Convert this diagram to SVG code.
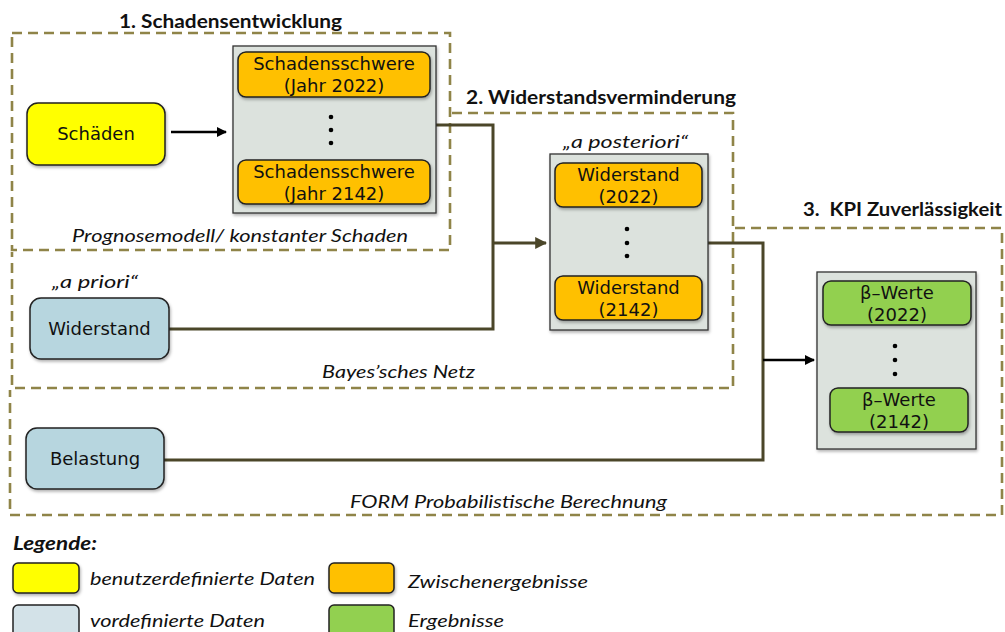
<svg xmlns="http://www.w3.org/2000/svg" width="1005" height="632" viewBox="0 0 1005 632">
<style>
.zone{fill:none;stroke:#8F8448;stroke-width:2.6;stroke-dasharray:10 6}
.title{font-family:Lato,"Open Sans","Liberation Sans",sans-serif;font-weight:bold;font-size:18px;fill:#111}
.ital{font-family:Lato,"Open Sans","Liberation Sans",sans-serif;font-style:italic;font-size:18px;fill:#111}
.nt{font-family:"DejaVu Sans","Liberation Sans",sans-serif;font-size:18px;fill:#111;text-anchor:middle}
.grp{fill:#DCE2DD;stroke:#333;stroke-width:1.3}
.yel{fill:#FFFF00;stroke:#222;stroke-width:1.5}
.blu{fill:#B7D6DF;stroke:#222;stroke-width:1.5}
.org{fill:#FFC000;stroke:#222;stroke-width:1.5}
.grn{fill:#92D050;stroke:#222;stroke-width:1.5}
.lblu{fill:#D3E2E8;stroke:#222;stroke-width:1.5}
.conn{fill:none;stroke:#4B4629;stroke-width:3;stroke-linejoin:miter}
.blk{fill:none;stroke:#000;stroke-width:2.5}
.dot{fill:#000}
</style>
<defs>
<filter id="sh" x="-10%" y="-10%" width="130%" height="140%">
<feDropShadow dx="1" dy="2" stdDeviation="1.5" flood-color="#000" flood-opacity="0.3"/>
</filter>
<marker id="ah" viewBox="0 0 10 10" refX="9" refY="5" markerWidth="4" markerHeight="4" orient="auto" markerUnits="strokeWidth">
<path d="M0,0 L10,5 L0,10 z" fill="#000"/>
</marker>
<marker id="ahb" viewBox="0 0 10 10" refX="9" refY="5" markerWidth="4" markerHeight="4" orient="auto" markerUnits="strokeWidth">
<path d="M0,0 L10,5 L0,10 z" fill="#4B4629"/>
</marker>
</defs>
<rect x="0" y="0" width="1005" height="632" fill="#ffffff"/>

<g id="zones">
<rect class="zone" x="12" y="33" width="438" height="217"/>
<path class="zone" d="M452,113 H733 V388 H12 V252"/>
<path class="zone" d="M735,228 H1002 V515 H10 V390"/>
</g>

<g id="zone-labels">
<text class="title" x="119" y="28" textLength="223" lengthAdjust="spacingAndGlyphs">1. Schadensentwicklung</text>
<text class="title" x="466" y="104" textLength="270" lengthAdjust="spacingAndGlyphs">2. Widerstandsverminderung</text>
<text class="title" x="803" y="216" textLength="199" lengthAdjust="spacingAndGlyphs" xml:space="preserve">3.  KPI Zuverlässigkeit</text>
<text class="ital" x="72" y="242" textLength="336" lengthAdjust="spacingAndGlyphs">Prognosemodell/ konstanter Schaden</text>
<text class="ital" x="322" y="378" textLength="153" lengthAdjust="spacingAndGlyphs">Bayes’sches Netz</text>
<text class="ital" x="350" y="508" textLength="317" lengthAdjust="spacingAndGlyphs">FORM Probabilistische Berechnung</text>
<text class="ital" x="52" y="288" textLength="86" lengthAdjust="spacingAndGlyphs">„a priori“</text>
<text class="ital" x="563" y="148" textLength="125" lengthAdjust="spacingAndGlyphs">„a posteriori“</text>
</g>

<g id="connectors">
<path class="conn" d="M436,125 H493 V329 H169"/>
<path class="conn" d="M493,243 H546" marker-end="url(#ahb)"/>
<path class="conn" d="M708,243 H763 V460 H164"/>
<path class="blk" d="M763,360 H814" marker-end="url(#ah)"/>
<path class="blk" d="M171,132 H226" marker-end="url(#ah)"/>
</g>

<g id="schaeden">
<rect class="yel" x="27" y="103" width="138" height="62" rx="11" filter="url(#sh)"/>
<text class="nt" x="96" y="140">Schäden</text>
</g>

<g id="widerstand-apriori">
<rect class="blu" x="30" y="298" width="139" height="61" rx="11" filter="url(#sh)"/>
<text class="nt" x="99.5" y="335">Widerstand</text>
</g>

<g id="belastung">
<rect class="blu" x="26" y="428" width="138" height="61" rx="11" filter="url(#sh)"/>
<text class="nt" x="95" y="465">Belastung</text>
</g>

<g id="schadensschwere">
<rect class="grp" x="233" y="46" width="203" height="167" filter="url(#sh)"/>
<rect class="org" x="238" y="52" width="192" height="45" rx="8" filter="url(#sh)"/>
<text class="nt" x="334" y="70">Schadensschwere</text>
<text class="nt" x="334" y="92">(Jahr 2022)</text>
<circle class="dot" cx="331" cy="117" r="2.3"/>
<circle class="dot" cx="331" cy="130" r="2.3"/>
<circle class="dot" cx="331" cy="143" r="2.3"/>
<rect class="org" x="238" y="160" width="192" height="44" rx="8" filter="url(#sh)"/>
<text class="nt" x="334" y="178">Schadensschwere</text>
<text class="nt" x="334" y="200">(Jahr 2142)</text>
</g>

<g id="widerstand-aposteriori">
<rect class="grp" x="550" y="154" width="158" height="176" filter="url(#sh)"/>
<rect class="org" x="555" y="163" width="147" height="44" rx="8" filter="url(#sh)"/>
<text class="nt" x="628.5" y="181">Widerstand</text>
<text class="nt" x="628.5" y="203">(2022)</text>
<circle class="dot" cx="627" cy="229" r="2.3"/>
<circle class="dot" cx="627" cy="243" r="2.3"/>
<circle class="dot" cx="627" cy="256" r="2.3"/>
<rect class="org" x="555" y="276" width="147" height="44" rx="8" filter="url(#sh)"/>
<text class="nt" x="628.5" y="294">Widerstand</text>
<text class="nt" x="628.5" y="316">(2142)</text>
</g>

<g id="beta-werte">
<rect class="grp" x="817" y="272" width="159" height="177" filter="url(#sh)"/>
<rect class="grn" x="823" y="281" width="148" height="44" rx="8" filter="url(#sh)"/>
<text class="nt" x="897" y="299">β–Werte</text>
<text class="nt" x="897" y="321">(2022)</text>
<circle class="dot" cx="895" cy="346" r="2.3"/>
<circle class="dot" cx="895" cy="360" r="2.3"/>
<circle class="dot" cx="895" cy="374" r="2.3"/>
<rect class="grn" x="830" y="388" width="138" height="44" rx="8" filter="url(#sh)"/>
<text class="nt" x="899" y="406">β–Werte</text>
<text class="nt" x="899" y="428">(2142)</text>
</g>

<g id="legend">
<text class="title" x="13" y="550" style="font-style:italic" textLength="84" lengthAdjust="spacingAndGlyphs">Legende:</text>
<rect class="yel" x="13" y="563" width="66" height="30" rx="5" filter="url(#sh)"/>
<text class="ital" x="90" y="585" textLength="225" lengthAdjust="spacingAndGlyphs">benutzerdefinierte Daten</text>
<rect class="org" x="329" y="563" width="65" height="30" rx="5" filter="url(#sh)"/>
<text class="ital" x="408" y="588" textLength="180" lengthAdjust="spacingAndGlyphs">Zwischenergebnisse</text>
<rect class="lblu" x="13" y="605" width="66" height="32" rx="5"/>
<text class="ital" x="90" y="627" textLength="175" lengthAdjust="spacingAndGlyphs">vordefinierte Daten</text>
<rect class="grn" x="329" y="605" width="65" height="32" rx="5"/>
<text class="ital" x="408" y="627" textLength="96" lengthAdjust="spacingAndGlyphs">Ergebnisse</text>
</g>
</svg>
